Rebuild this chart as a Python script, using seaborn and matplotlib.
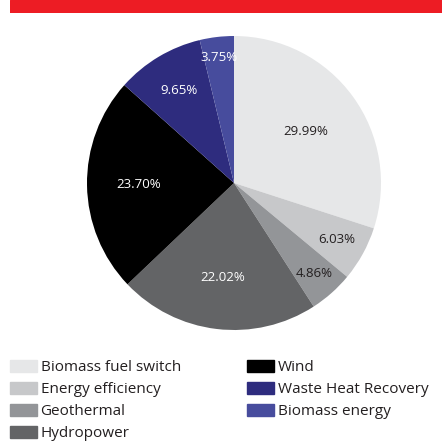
import numpy as np
import matplotlib
matplotlib.use("Agg")
import matplotlib.pyplot as plt
import matplotlib.patches as mpatches
import seaborn as sns

sns.set_theme(style="white")
plt.rcParams['font.family'] = ['Open Sans', 'DejaVu Sans']

# data
categories = ["Biomass fuel switch", "Energy efficiency", "Geothermal", "Hydropower",
              "Wind", "Waste Heat Recovery", "Biomass energy"]
shares = [29.99, 6.03, 4.86, 22.02, 23.70, 9.65, 3.75]
colors = ["#E6E7E8", "#C7C8CA", "#939598", "#636466", "#000000", "#2E2C7E", "#474C9D"]
label_colors = ["#231F20", "#231F20", "#231F20", "white", "white", "white", "white"]
label_dist = [0.6, 0.8, 0.82, 0.65, 0.65, 0.73, 0.86]

fig = plt.figure(figsize=(4.42, 4.46), dpi=100)

# red bar on top
bar_ax = fig.add_axes([10 / 442, 1 - 13 / 446, 432 / 442, 13 / 446])
bar_ax.add_patch(mpatches.Rectangle((0, 0), 1, 1, color="#ED1C24"))
bar_ax.set_xlim(0, 1)
bar_ax.set_ylim(0, 1)
bar_ax.axis("off")

cx, cy, r = 234, 183, 147
ax = fig.add_axes([(cx - r) / 442, (446 - cy - r) / 446, 2 * r / 442, 2 * r / 446])
wedges, _ = ax.pie(shares, colors=colors, startangle=90, counterclock=False,
                   wedgeprops=dict(linewidth=0))
ax.set_xlim(-1, 1)
ax.set_ylim(-1, 1)
ax.set_aspect("equal")

for w, v, c, d in zip(wedges, shares, label_colors, label_dist):
    ang = np.deg2rad((w.theta1 + w.theta2) / 2)
    ax.text(d * np.cos(ang), d * np.sin(ang), f"{v:.2f}%", ha="center", va="center",
            color=c, fontsize=9.5)

# legend
handles = [mpatches.Patch(color=col, label=cat) for cat, col in zip(categories, colors)]
kw = dict(loc="upper left", frameon=False, fontsize=11, handlelength=1.75, handleheight=0.8,
          handletextpad=0.25, labelspacing=0.45, borderpad=0, borderaxespad=0)
fig.legend(handles=handles[:4], bbox_to_anchor=(10 / 442, 1 - 360 / 446), **kw)
fig.legend(handles=handles[4:], bbox_to_anchor=(247 / 442, 1 - 360 / 446), **kw)
for leg in fig.legends:
    for t in leg.get_texts():
        t.set_color("#231F20")

fig.savefig("out.png", dpi=100)
